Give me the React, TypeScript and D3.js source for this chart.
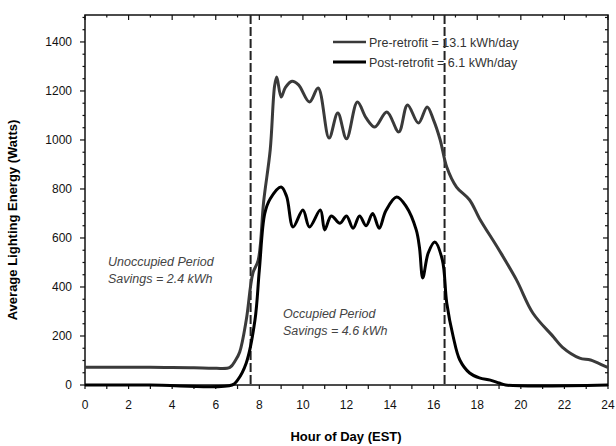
import React from "react";
import * as d3 from "d3";

const W = 616;
const H = 446;

const preHours = [0, 1, 2, 3, 4, 5, 6, 6.65, 6.9, 7.1, 7.4, 7.7, 7.95, 8.2, 8.5, 8.7, 8.8, 9.0, 9.2, 9.5, 9.8, 10.3, 10.7, 11.2, 11.6, 12.0, 12.5, 12.9, 13.3, 13.85, 14.4, 14.8, 15.3, 15.7, 16.0, 16.3, 16.6, 17.05, 17.65, 18.1, 19.0, 19.8, 20.55, 21.5, 21.9, 22.7, 23.2, 23.9, 24];
const preWatts = [72, 72, 72, 72, 71, 70, 68, 72, 100, 135, 265, 455, 510, 750, 960, 1220, 1257, 1175, 1215, 1240, 1225, 1155, 1212, 1008, 1110, 1005, 1155, 1090, 1053, 1114, 1033, 1143, 1069, 1135, 1080, 1000, 890, 808, 755, 680, 551, 429, 294, 196, 155, 110, 102, 75, 72];

const postHours = [0, 3, 6.75, 7.0, 7.4, 7.8, 8.0, 8.25, 8.5, 9.0, 9.25, 9.55, 10.0, 10.3, 10.8, 11.0, 11.3, 11.7, 12.0, 12.3, 12.6, 12.9, 13.2, 13.5, 13.8, 14.3, 14.75, 15.2, 15.35, 15.5, 15.75, 16.05, 16.4, 16.6, 16.9, 17.2, 17.65, 18.1, 18.6, 19.0, 19.3, 24];
const postWatts = [0, 0, 0, 20, 90, 265, 469, 700, 760, 808, 770, 645, 714, 645, 714, 633, 690, 660, 690, 640, 690, 650, 700, 640, 710, 767, 727, 633, 560, 437, 539, 584, 510, 335, 196, 102, 49, 29, 20, 8, 0, 0];

const xTicks = [0, 2, 4, 6, 8, 10, 12, 14, 16, 18, 20, 22, 24];
const yTicks = [0, 200, 400, 600, 800, 1000, 1200, 1400];
const periodBounds = [7.6, 16.5];
const legendLabels = ["Pre-retrofit = 13.1 kWh/day", "Post-retrofit = 6.1 kWh/day"];
const unoccupiedText = ["Unoccupied Period", "Savings = 2.4 kWh"];
const occupiedText = ["Occupied Period", "Savings = 4.6 kWh"];

const x = d3.scaleLinear().domain([0, 24]).range([85, 608]);
const y = d3.scaleLinear().domain([0, 1510]).range([385, 15]);

export default function App() {
  const pre = preHours.map((h, i) => [h, preWatts[i]] as [number, number]);
  const post = postHours.map((h, i) => [h, postWatts[i]] as [number, number]);
  const line = d3
    .line<[number, number]>()
    .x((d) => x(d[0]))
    .y((d) => y(Math.max(0, d[1])))
    .curve(d3.curveCatmullRom.alpha(0.5));

  const font = "'Liberation Sans', Arial, sans-serif";
  const minorY = d3.range(0, 1501, 50);
  const hours = d3.range(0, 25, 1);
  const [x0, x1] = x.range();
  const [y0, y1] = y.range();

  return (
    <svg
      width={W}
      height={H}
      style={{ position: "absolute", left: 0, top: 0, background: "#fff" }}
      fontFamily={font}
    >
      <rect x={0} y={0} width={W} height={H} fill="#fff" />
      <rect x={x0} y={y1} width={x1 - x0} height={y0 - y1} fill="none" stroke="#111" strokeWidth={1.5} />
      {minorY.map((v) => (
        <line key={"ly" + v} x1={x0} x2={x0 - (v % 200 === 0 ? 5 : 2.5)} y1={y(v)} y2={y(v)} stroke="#111" strokeWidth={1.2} />
      ))}
      {minorY.map((v) => (
        <line key={"ry" + v} x1={x1} x2={x1 - (v % 200 === 0 ? 5 : 3)} y1={y(v)} y2={y(v)} stroke="#111" strokeWidth={1.2} />
      ))}
      {hours.map((h) => (
        <line key={"bx" + h} x1={x(h)} x2={x(h)} y1={y0} y2={y0 + 4} stroke="#111" strokeWidth={1.2} />
      ))}
      {hours.map((h) => (
        <line key={"tx" + h} x1={x(h)} x2={x(h)} y1={y1} y2={y1 + (h % 2 === 0 ? 5 : 2.5)} stroke="#111" strokeWidth={1.2} />
      ))}
      {yTicks.map((v) => (
        <text key={"yl" + v} x={72} y={y(v)} dy="0.35em" textAnchor="end" fontSize={12} fill="#111">
          {v}
        </text>
      ))}
      {xTicks.map((h) => (
        <text key={"xl" + h} x={x(h)} y={409} textAnchor="middle" fontSize={12} fill="#111">
          {h}
        </text>
      ))}
      <text x={346} y={441} textAnchor="middle" fontSize={13} fontWeight="bold" fill="#000">
        Hour of Day (EST)
      </text>
      <text
        transform={`translate(17,${220}) rotate(-90)`}
        textAnchor="middle"
        fontSize={13}
        fontWeight="bold"
        fill="#000"
      >
        Average Lighting Energy (Watts)
      </text>
      {periodBounds.map((h) => (
        <line key={"pb" + h} x1={x(h)} x2={x(h)} y1={y1} y2={y0} stroke="#222" strokeWidth={2} strokeDasharray="9,3" />
      ))}
      <path d={line(pre) || ""} fill="none" stroke="#3a3a3a" strokeWidth={3} strokeLinejoin="round" />
      <path d={line(post) || ""} fill="none" stroke="#000" strokeWidth={3} strokeLinejoin="round" />
      <line x1={333} x2={366} y1={42} y2={42} stroke="#3a3a3a" strokeWidth={2.5} />
      <line x1={333} x2={366} y1={62} y2={62} stroke="#000" strokeWidth={3} />
      <text x={369} y={46.5} fontSize={12.5} fill="#333">{legendLabels[0]}</text>
      <text x={369} y={66.5} fontSize={12.5} fill="#333">{legendLabels[1]}</text>
      <text x={108} y={266} fontSize={12.5} fontStyle="italic" fill="#444">{unoccupiedText[0]}</text>
      <text x={108} y={283} fontSize={12.5} fontStyle="italic" fill="#444">{unoccupiedText[1]}</text>
      <text x={283} y={318} fontSize={12.5} fontStyle="italic" fill="#444">{occupiedText[0]}</text>
      <text x={283} y={335} fontSize={12.5} fontStyle="italic" fill="#444">{occupiedText[1]}</text>
    </svg>
  );
}
